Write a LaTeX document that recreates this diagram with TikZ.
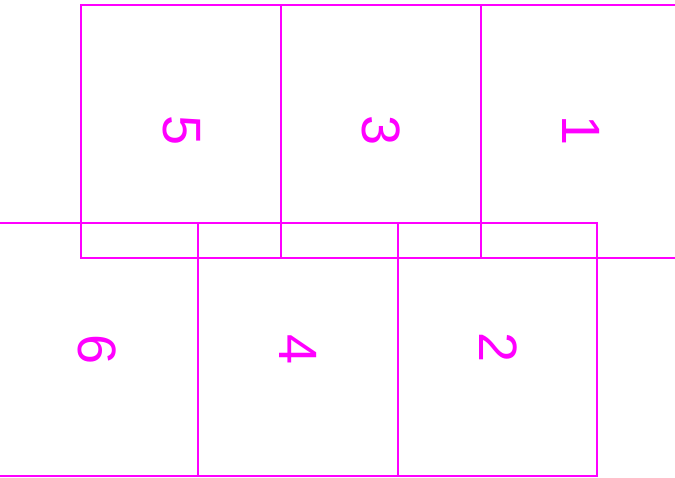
\documentclass[tikz,border=0pt]{standalone}
\usepackage{fontspec}
\setmainfont{Liberation Sans}
\definecolor{mag}{RGB}{255,0,255}
\begin{document}
\begin{tikzpicture}[x=1pt,y=-1pt,
  cell/.style={draw=mag,line width=2pt},
  lbl/.style={text=mag,font=\fontsize{54}{54}\selectfont,rotate=-90,inner sep=0pt}]
\useasboundingbox (0,0) rectangle (675,477);
\begin{scope}
\clip (0,0) rectangle (675,477);
\draw[cell] (81,5) rectangle (281,258);
\draw[cell] (281,5) rectangle (481,258);
\draw[cell] (481,5) rectangle (681,258);
\draw[cell] (-2,223) rectangle (198,476);
\draw[cell] (198,223) rectangle (398,476);
\draw[cell] (398,223) rectangle (597,476);
\end{scope}
\node[lbl] (n5) at (182,131) {5};
\node[lbl] (n3) at (381,131) {3};
\node[lbl] (n1) at (581,131) {1};
\node[lbl] (n6) at (97,350) {6};
\node[lbl] (n4) at (298,350) {4};
\node[lbl] (n2) at (498,348) {2};
\end{tikzpicture}
\end{document}
